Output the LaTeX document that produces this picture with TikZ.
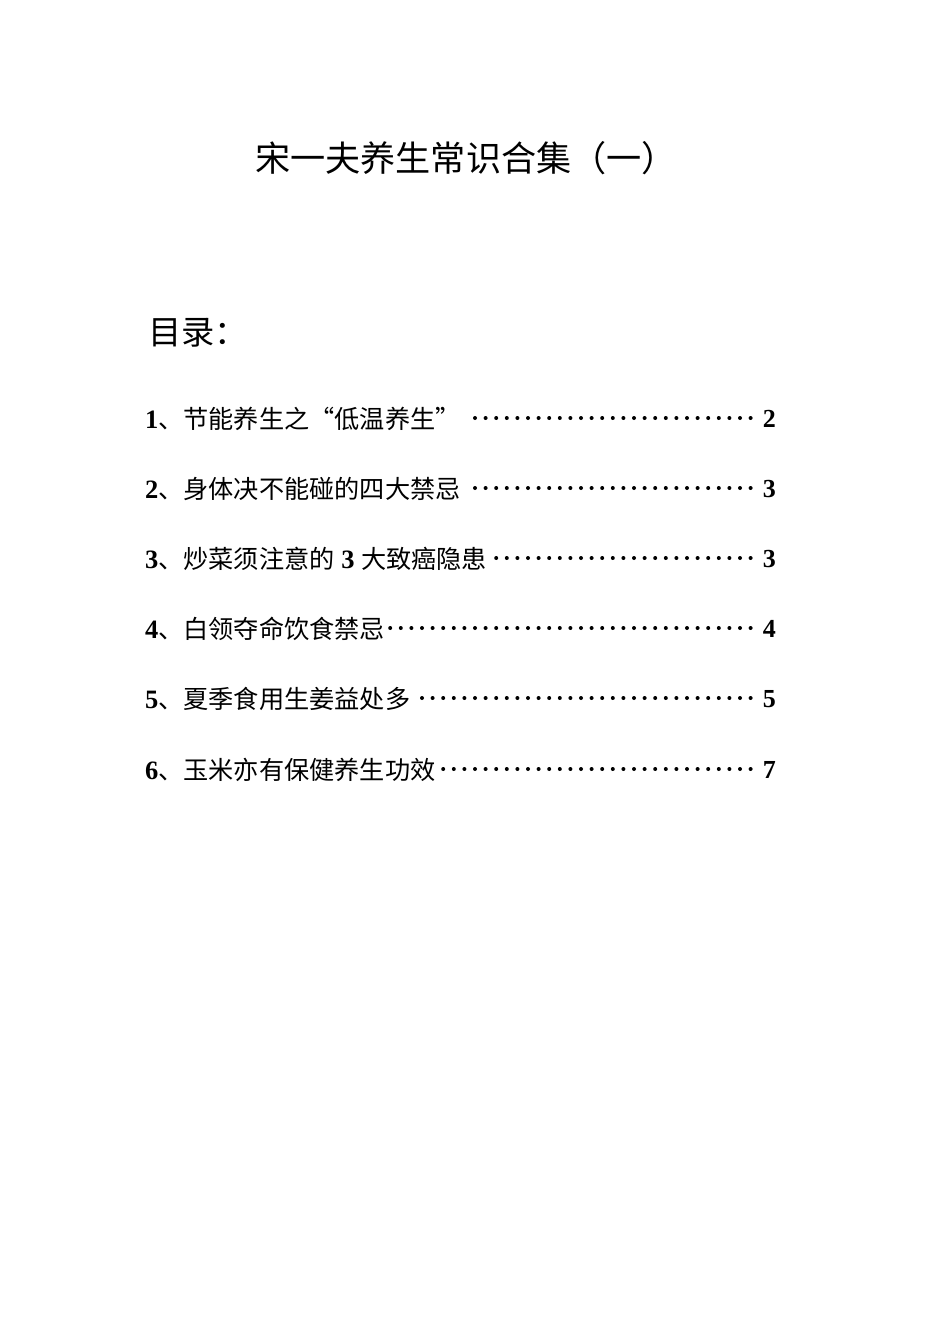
\documentclass[tikz,border=0pt]{standalone}
\usepackage{fontspec}
\setmainfont{Liberation Serif}
\newfontfamily\cjk{Noto Sans CJK SC}[Scale=0.95]
\begin{document}
\begin{tikzpicture}[x=1pt,y=-1pt,
  entry/.style={anchor=west,inner sep=0pt,font=\fontsize{26.5}{26.5}\selectfont},
  pnum/.style={anchor=east,inner sep=0pt,font=\fontsize{26}{26}\selectfont\bfseries}]
\useasboundingbox (0,0) rectangle (950,1344);
\node[inner sep=0pt,font=\fontsize{37}{37}\selectfont\cjk] (title) at (466,158) {宋一夫养生常识合集（一）};
\node[inner sep=0pt,anchor=west,font=\fontsize{35}{35}\selectfont\cjk] (toc) at (148,333) {目录：};
\foreach \i/\t/\p/\y in {1/节能养生之“低温养生”/2/419,2/身体决不能碰的四大禁忌/3/489,3/炒菜须注意的{\normalfont\bfseries\ 3 }大致癌隐患/3/559,4/白领夺命饮食禁忌/4/629,5/夏季食用生姜益处多/5/699,6/玉米亦有保健养生功效/7/770}{
  \node[entry] (e\i) at (145,\y) {\textbf{\i}{\cjk 、\t}};
  \node[pnum] (p\i) at (776,\y) {\p};
}
\foreach \i in {1,...,6}{
  \pgfextractx{\dimen0}{\pgfpointanchor{e\i}{east}}
  \pgfextractx{\dimen2}{\pgfpointanchor{p\i}{west}}
  \pgfmathsetmacro{\cnt}{int(floor((\the\dimen2-\the\dimen0-16)/10.6))}
  \foreach \k in {0,...,\cnt}{
    \fill ([xshift=-12pt-\k*10.6pt,yshift=1pt]p\i.west) circle (2pt);
  }
}
\end{tikzpicture}
\end{document}
